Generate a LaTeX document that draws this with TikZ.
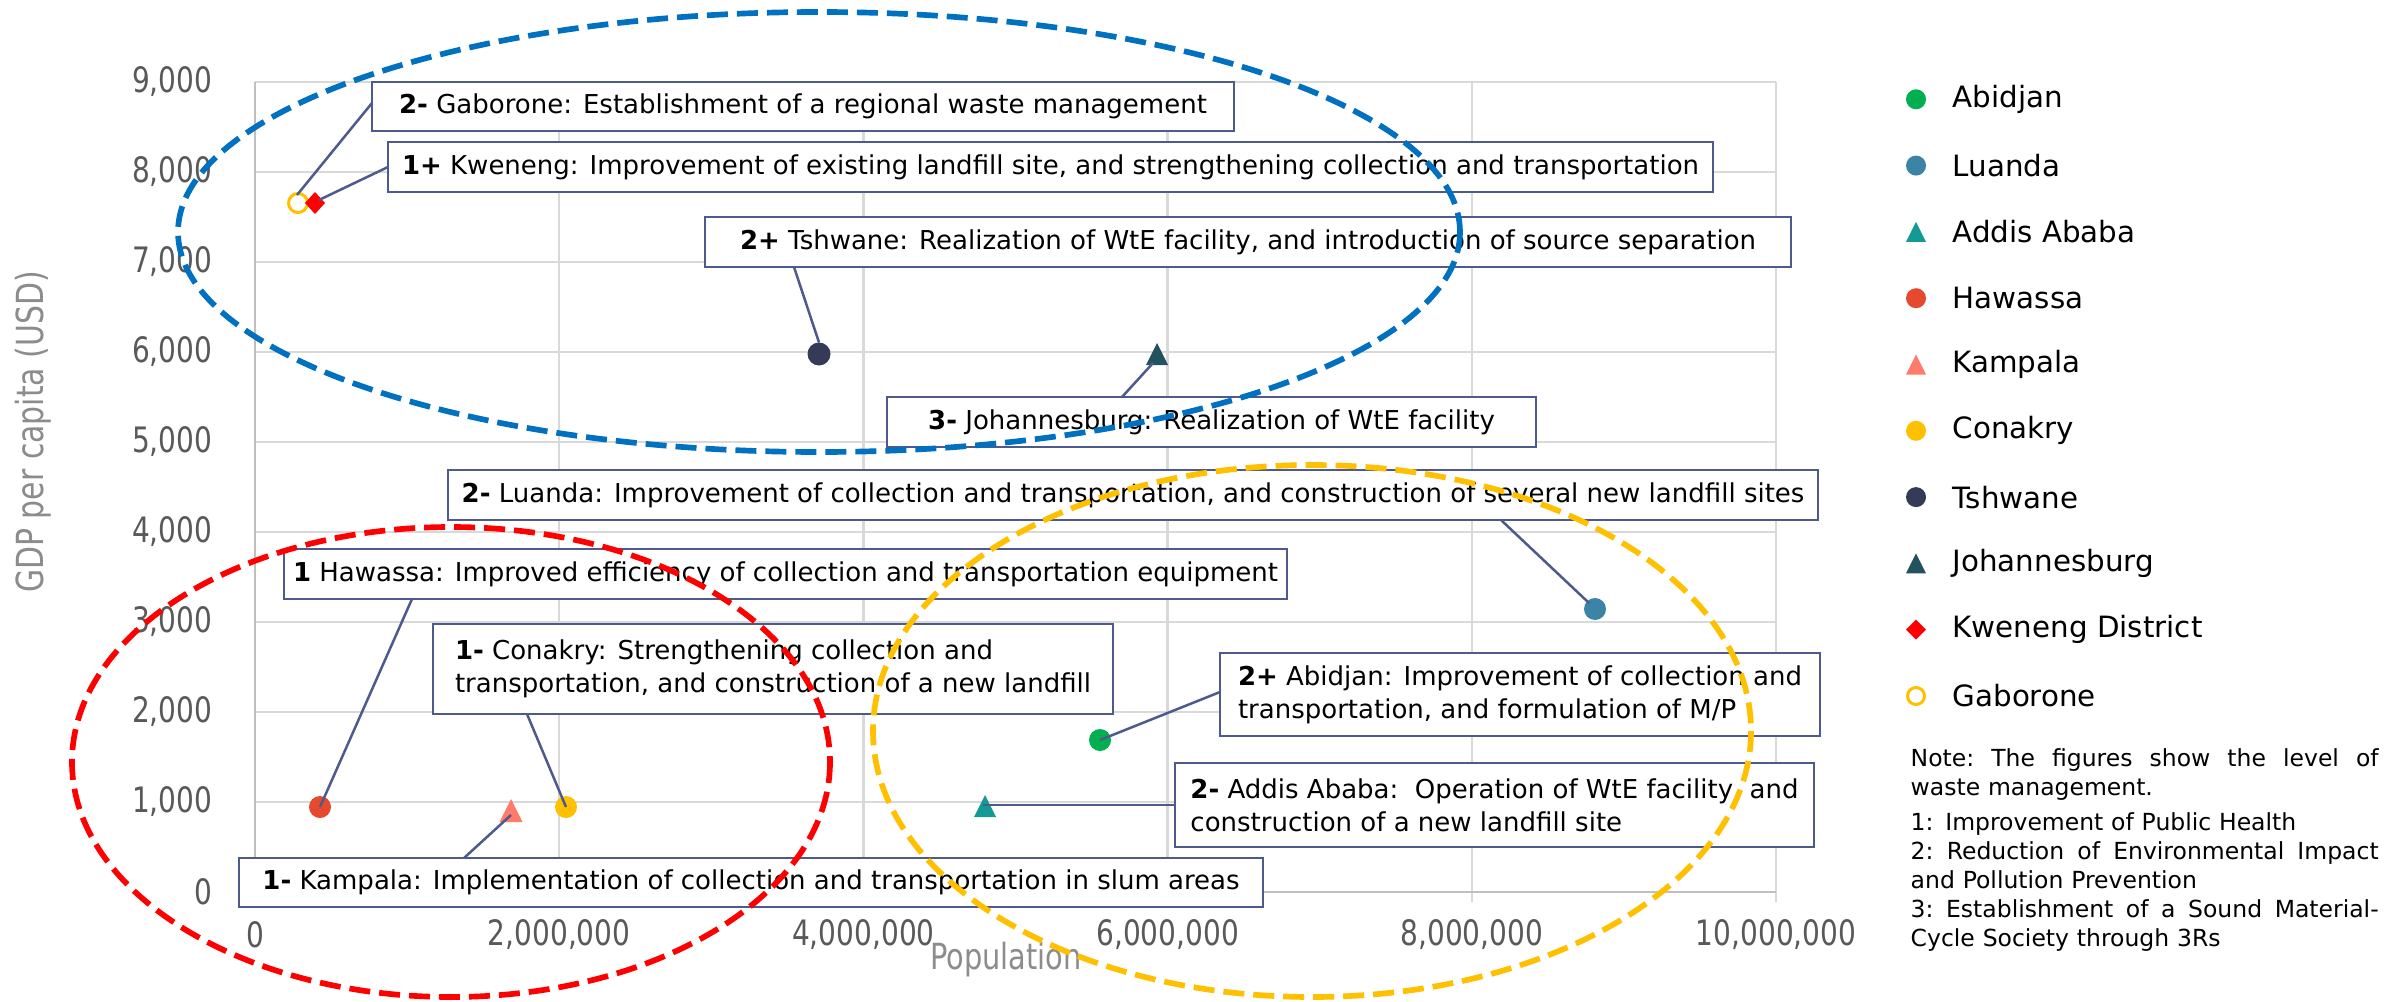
\documentclass[tikz,border=0pt]{standalone}
\usepackage{fontspec}
\setmainfont{DejaVu Sans}
\newfontfamily\narrowfont[FakeStretch=0.8]{DejaVu Sans}
\usetikzlibrary{calc}
\definecolor{boxc}{HTML}{4F5A8C}
\definecolor{gridc}{HTML}{D9D9D9}
\definecolor{axisc}{HTML}{BFBFBF}
\definecolor{tickc}{HTML}{595959}
\definecolor{titlec}{HTML}{8C8C8C}
\definecolor{gdpc}{HTML}{8C8C8C}
\definecolor{abic}{HTML}{00B050}
\definecolor{luac}{HTML}{3C84A6}
\definecolor{addc}{HTML}{149A94}
\definecolor{hawc}{HTML}{E64A2E}
\definecolor{kamc}{HTML}{FF7C6A}
\definecolor{conc}{HTML}{FFC000}
\definecolor{tshc}{HTML}{343A58}
\definecolor{johc}{HTML}{22525F}
\definecolor{kwec}{HTML}{FF0000}
\definecolor{gabc}{HTML}{FFC000}
\definecolor{elblue}{HTML}{0070C0}
\definecolor{elred}{HTML}{FF0000}
\definecolor{elyel}{HTML}{FFC000}
\newcommand{\pxu}{0.3pt}
% triangle marker: #1 centre, #2 colour, #3 half size
\newcommand{\trimark}[3]{\fill[#2] ($(#1)+(0,-#3)$) -- ($(#1)+(#3,#3)$) -- ($(#1)+(-#3,#3)$) -- cycle;}
\newcommand{\diamark}[4]{\fill[#2] ($(#1)+(0,-#4)$) -- ($(#1)+(#3,0)$) -- ($(#1)+(0,#4)$) -- ($(#1)+(-#3,0)$) -- cycle;}
\newcommand{\jline}[1]{\leavevmode\hbox to 140.4pt{#1}}
\tikzset{
  gridln/.style={draw=gridc, line width=0.75pt},
  axisln/.style={draw=axisc, line width=0.75pt},
  ytick/.style={anchor=east, inner sep=0pt, text=tickc, font=\narrowfont\fontsize{10.5}{11}\selectfont},
  xtick/.style={anchor=center, inner sep=0pt, text=tickc, font=\narrowfont\fontsize{10.5}{11}\selectfont},
  callout/.style={draw=boxc, line width=0.8pt, fill=white, inner sep=0pt, outer sep=0pt, align=left, font=\fontsize{7.8}{9.9}\selectfont},
  conn/.style={draw=boxc, line width=0.75pt},
  dot/.style={circle, inner sep=0pt, outer sep=0pt, minimum size=22*\pxu},
  ldot/.style={circle, inner sep=0pt, outer sep=0pt, minimum size=20*\pxu},
  ring/.style={circle, draw=gabc, line width=0.9pt, inner sep=0pt, outer sep=0pt},
  dashell/.style={line width=1.7pt, dash pattern=on 6.3pt off 2.7pt},
  legtext/.style={anchor=west, inner sep=0pt, font=\fontsize{8.8}{10}\selectfont},
}
\begin{document}
\begin{tikzpicture}[x=0.3pt,y=-0.3pt]
\fill[white] (0,0) rectangle (2394,1001);
\useasboundingbox (0,0) rectangle (2394,1001);

% grid
\foreach \yy in {82,172,...,802} {\draw[gridln] (255,\yy) -- (1776,\yy);}
\foreach \xx in {559.2,863.4,1167.6,1471.8,1776} {\draw[gridln] (\xx,82) -- (\xx,902);}
\draw[axisln] (255,82) -- (255,902);
\draw[axisln] (255,892) -- (1776,892);

% tick labels
\foreach \lab [count=\i from 0] in {9{,}000,8{,}000,7{,}000,6{,}000,5{,}000,4{,}000,3{,}000,2{,}000,1{,}000,0}
  {\node[ytick] (yt\i) at (213,82+90*\i) {\lab};}
\foreach \lab [count=\i from 0] in {0,2{,}000{,}000,4{,}000{,}000,6{,}000{,}000,8{,}000{,}000,10{,}000{,}000}
  {\node[xtick] (xt\i) at (255+304.2*\i,935) {\lab};}
\node[inner sep=0pt, text=titlec, font=\narrowfont\fontsize{10.8}{12}\selectfont] (xtitle) at (1006,960) {Population};
\node[inner sep=0pt, rotate=90, text=gdpc, font=\narrowfont\fontsize{11.2}{12}\selectfont] (ytitle) at (33,432) {GDP per capita (USD)};

% data markers
\node[ring, minimum size=19*\pxu] (gabpt) at (298,203) {};
\coordinate (kwept) at (315,203); \diamark{kwept}{kwec}{10}{11}
\node[dot, fill=tshc, minimum size=23*\pxu] (tshpt) at (819,354) {};
\coordinate (johpt) at (1157,354); \trimark{johpt}{johc}{11}
\node[dot, fill=luac] (luapt) at (1595,609) {};
\node[dot, fill=abic] (abipt) at (1100,740) {};
\coordinate (addpt) at (985,806); \trimark{addpt}{addc}{11}
\node[dot, fill=hawc] (hawpt) at (320,807) {};
\coordinate (kampt) at (511,810.5); \trimark{kampt}{kamc}{11.5}
\node[dot, fill=conc] (conpt) at (566,807) {};

% connector tips
\coordinate (gabtip) at (297,195);
\coordinate (kwetip) at (319,200);
\coordinate (johtip) at (1153,363);
\coordinate (luatip) at (1589,603);
\coordinate (addtip) at (983,805);
\coordinate (kamtip) at (511,815);

% callout boxes
\node[callout, minimum width=862*\pxu, minimum height=49*\pxu] (gabbox) at (803,106.5) {\textbf{2-} Gaborone: Establishment of a regional waste management};
\node[callout, minimum width=1325*\pxu, minimum height=50*\pxu] (kwebox) at (1050.5,167) {\textbf{1+} Kweneng: Improvement of existing landfill site, and strengthening collection and transportation};
\node[callout, minimum width=1086*\pxu, minimum height=50*\pxu] (tshbox) at (1248,242) {\textbf{2+} Tshwane: Realization of WtE facility, and introduction of source separation};
\node[callout, minimum width=649*\pxu, minimum height=50*\pxu] (johbox) at (1211.5,422) {\textbf{3-} Johannesburg: Realization of WtE facility};
\node[callout, minimum width=1370*\pxu, minimum height=50*\pxu] (luabox) at (1133,495) {\textbf{2-} Luanda: Improvement of collection and transportation, and construction of several new landfill sites};
\node[callout, minimum width=1003*\pxu, minimum height=50*\pxu] (hawbox) at (785.5,574) {\textbf{1} Hawassa: Improved efficiency of collection and transportation equipment};
\node[callout, minimum width=680*\pxu, minimum height=90*\pxu] (conbox) at (773,669) {\textbf{1-} Conakry: Strengthening collection and\\transportation, and construction of a new landfill};
\node[callout, minimum width=600*\pxu, minimum height=83*\pxu] (abibox) at (1520,694.5) {\textbf{2+} Abidjan: Improvement of collection and\\transportation, and formulation of M/P};
\node[callout, minimum width=639*\pxu, minimum height=84*\pxu] (addbox) at (1494.5,805) {\textbf{2-} Addis Ababa:\ \ Operation of WtE facility, and\\construction of a new landfill site};
\node[callout, minimum width=1024*\pxu, minimum height=49*\pxu] (kambox) at (751,882.5) {\textbf{1-} Kampala: Implementation of collection and transportation in slum areas};

% connectors
\draw[conn] ($(gabbox.north west)+(0,21)$) -- (gabtip);
\draw[conn] (kwebox.west) -- (kwetip);
\draw[conn] ($(tshbox.south west)+(89,0)$) -- (tshpt.north);
\draw[conn] ($(johbox.north west)+(235,0)$) -- (johtip);
\draw[conn] ($(luabox.south west)+(1053,0)$) -- (luatip);
\draw[conn] ($(hawbox.south west)+(128,0)$) -- (hawpt.center);
\draw[conn] ($(conbox.south west)+(94,0)$) -- (conpt.center);
\draw[conn] ($(abibox.north west)+(0,39)$) -- (abipt.center);
\draw[conn] (addbox.west) -- (addtip);
\draw[conn] ($(kambox.north west)+(225,0)$) -- (kamtip);

% dashed ellipses
\draw[dashell, draw=elblue] (819,232) ellipse [x radius=641, y radius=220];
\draw[dashell, draw=elred] (451,762) ellipse [x radius=379, y radius=235];
\draw[dashell, draw=elyel] (1312,731) ellipse [x radius=439, y radius=266];

% legend
\node[ldot, fill=abic] (lm0) at (1916,99.3) {};
\node[legtext] (lt0) at (1952,99.3) {Abidjan};
\node[ldot, fill=luac] (lm1) at (1916,165.6) {};
\node[legtext] (lt1) at (1952,165.6) {Luanda};
\coordinate (lm2) at (1916,231.9); \trimark{lm2}{addc}{10}
\node[legtext] (lt2) at (1952,231.9) {Addis Ababa};
\node[ldot, fill=hawc] (lm3) at (1916,298.2) {};
\node[legtext] (lt3) at (1952,298.2) {Hawassa};
\coordinate (lm4) at (1916,364.5); \trimark{lm4}{kamc}{10}
\node[legtext] (lt4) at (1952,364.5) {Kampala};
\node[ldot, fill=conc] (lm5) at (1916,430.8) {};
\node[legtext] (lt5) at (1952,430.8) {Conakry};
\node[ldot, fill=tshc] (lm6) at (1916,497.1) {};
\node[legtext] (lt6) at (1952,497.1) {Tshwane};
\coordinate (lm7) at (1916,563.4); \trimark{lm7}{johc}{10}
\node[legtext] (lt7) at (1952,563.4) {Johannesburg};
\coordinate (lm8) at (1916,629.7); \diamark{lm8}{kwec}{10}{10}
\node[legtext] (lt8) at (1952,629.7) {Kweneng District};
\node[ring, minimum size=17*\pxu] (lm9) at (1916,696) {};
\node[legtext] (lt9) at (1952,696) {Gaborone};

% note
\node[anchor=north west, inner sep=0pt, text width=140.4pt, align=left, font=\fontsize{7.05}{8.7}\selectfont] (note) at (1910,748)
{\jline{Note:\hfill The\hfill figures\hfill show\hfill the\hfill level\hfill of}\\
waste management.\\[1.8pt]
1: Improvement of Public Health\\
\jline{2:\hfill Reduction\hfill of\hfill Environmental\hfill Impact}\\
and Pollution Prevention\\
\jline{3:\hfill Establishment\hfill of\hfill a\hfill Sound\hfill Material-}\\
Cycle Society through 3Rs};
\end{tikzpicture}
\end{document}
